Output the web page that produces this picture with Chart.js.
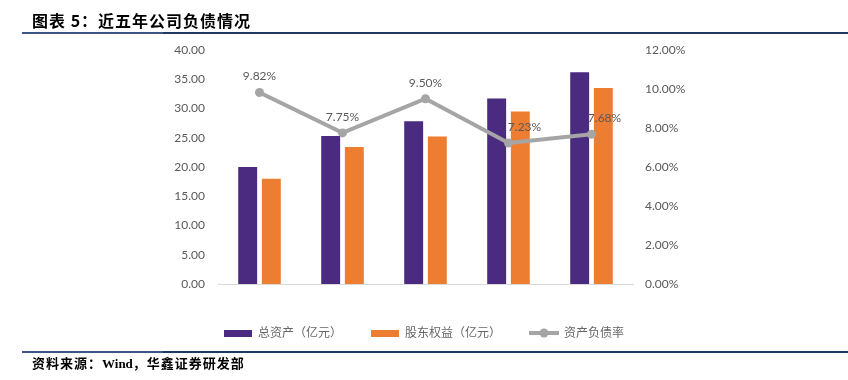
<!DOCTYPE html>
<html><head><meta charset="utf-8">
<script src="https://cdn.jsdelivr.net/npm/chart.js@4.4.0/dist/chart.umd.min.js"></script>
<style>
html,body{margin:0;padding:0;background:#fff;}
#wrap{position:relative;width:848px;height:380px;overflow:hidden;background:#fff;}
#box{position:absolute;left:0;top:0;width:848px;height:380px;}
.title{position:absolute;left:32px;top:9px;font-family:"Noto Sans CJK SC";font-weight:bold;font-size:16px;letter-spacing:1px;color:#000;white-space:nowrap;line-height:22px;}
.src{position:absolute;left:32px;top:354px;font-family:"Noto Sans CJK SC";font-weight:bold;font-size:13px;letter-spacing:1px;color:#000;white-space:nowrap;line-height:18px;}
.src .en{font-family:"Liberation Serif";font-weight:bold;letter-spacing:0;}
.rule{position:absolute;height:2px;background:#1f3864;}
.rule.l{background:#3b5585;height:2px;}
</style>
</head><body>
<div id="wrap">
  <div id="box"><canvas id="cv"></canvas></div>
  <div class="title">图表 5：近五年公司负债情况</div>
  <div class="rule" style="left:163px;top:32px;width:685px;"></div>
  <div class="rule l" style="left:22px;top:32px;width:141px;"></div>
  <div class="rule" style="left:163px;top:351px;width:685px;"></div>
  <div class="rule l" style="left:22px;top:351px;width:141px;"></div>
  <div class="src">资料来源：<span class="en">Wind</span>，华鑫证券研发部</div>
</div>
<script>
const categories = ['2015', '2016', '2017', '2018', '2019Q3'];
const totalAssets = [20.0, 25.3, 27.8, 31.7, 36.2];
const equity = [18.0, 23.4, 25.2, 29.5, 33.5];
const debtRatio = [9.82, 7.75, 9.50, 7.23, 7.68];
const seriesNames = ['总资产（亿元）', '股东权益（亿元）', '资产负债率'];

const PURPLE = '#4a2b7f', ORANGE = '#ed7d31', GRAY = '#a5a5a5';
const FONT = 'Lato, "Noto Sans CJK SC", sans-serif';

function mkBox(color) {
  const c = document.createElement('canvas');
  c.width = 28; c.height = 7;
  const g = c.getContext('2d');
  g.fillStyle = color; g.fillRect(0, 0, 28, 7);
  return c;
}
function mkLine(color) {
  const c = document.createElement('canvas');
  c.width = 30; c.height = 10;
  const g = c.getContext('2d');
  g.strokeStyle = color; g.lineWidth = 4;
  g.beginPath(); g.moveTo(0, 5); g.lineTo(30, 5); g.stroke();
  g.fillStyle = color; g.beginPath(); g.arc(15, 5, 4.5, 0, Math.PI * 2); g.fill();
  return c;
}
const legendImgs = [mkBox(PURPLE), mkBox(ORANGE), mkLine(GRAY)];

const labelPlugin = {
  id: 'pctLabels',
  afterDatasetsDraw(chart, args, opts) {
    const meta = chart.getDatasetMeta(2);
    const ctx = chart.ctx;
    ctx.save();
    ctx.font = '12px ' + FONT;
    ctx.fillStyle = '#595959';
    ctx.textAlign = 'center';
    ctx.textBaseline = 'middle';
    meta.data.forEach((pt, i) => {
      const v = chart.data.datasets[2].data[i];
      ctx.fillText(v.toFixed(2) + '%', pt.x + (opts.dx[i] || 0), pt.y - 16);
    });
    ctx.restore();
  }
};

new Chart(document.getElementById('cv'), {
  type: 'bar',
  data: {
    labels: categories,
    datasets: [
      {label: seriesNames[0], data: totalAssets, backgroundColor: PURPLE, yAxisID: 'y', order: 1,
       categoryPercentage: 0.57, barPercentage: 0.8},
      {label: seriesNames[1], data: equity, backgroundColor: ORANGE, yAxisID: 'y', order: 1,
       categoryPercentage: 0.57, barPercentage: 0.8},
      {label: seriesNames[2], data: debtRatio, type: 'line', yAxisID: 'y1', order: 0,
       borderColor: GRAY, backgroundColor: GRAY, borderWidth: 4, pointRadius: 4.5,
       pointBackgroundColor: GRAY, pointBorderWidth: 0, tension: 0, fill: false}
    ]
  },
  options: {
    responsive: true,
    maintainAspectRatio: false,
    animation: false,
    layout: {padding: {top: 50, bottom: 31, left: 0, right: 0}},
    plugins: {
      tooltip: {enabled: false},
      pctLabels: {dx: [0, 0, 0, 16, 13]},
      legend: {
        position: 'bottom',
        labels: {
          usePointStyle: true,
          pointStyleWidth: 28,
          padding: 29,
          color: '#666666',
          font: {family: FONT, size: 12},
          generateLabels: (chart) => chart.data.datasets.map((ds, i) => ({
            text: ds.label, pointStyle: legendImgs[i], datasetIndex: i,
            fillStyle: 'transparent', strokeStyle: 'transparent', lineWidth: 0,
            fontColor: '#666666', hidden: false
          }))
        }
      }
    },
    scales: {
      x: {
        grid: {display: false, drawTicks: false},
        border: {display: true, color: '#d9d9d9', width: 1},
        ticks: {color: '#595959', font: {family: FONT, size: 12}, padding: 12},
        afterFit(s) { s.height = 14; }
      },
      y: {
        position: 'left',
        min: 0, max: 40,
        grid: {display: false, drawTicks: false},
        border: {display: false},
        ticks: {stepSize: 5, color: '#595959', font: {family: FONT, size: 12}, padding: 13,
                callback: (v) => v.toFixed(2)},
        afterFit(s) { s.width = 218; }
      },
      y1: {
        position: 'right',
        min: 0, max: 12,
        grid: {display: false, drawTicks: false},
        border: {display: false},
        ticks: {stepSize: 2, color: '#595959', font: {family: FONT, size: 12}, padding: 12,
                callback: (v) => v.toFixed(2) + '%'},
        afterFit(s) { s.width = 215; }
      }
    }
  },
  plugins: [labelPlugin]
});
</script>
</body></html>
